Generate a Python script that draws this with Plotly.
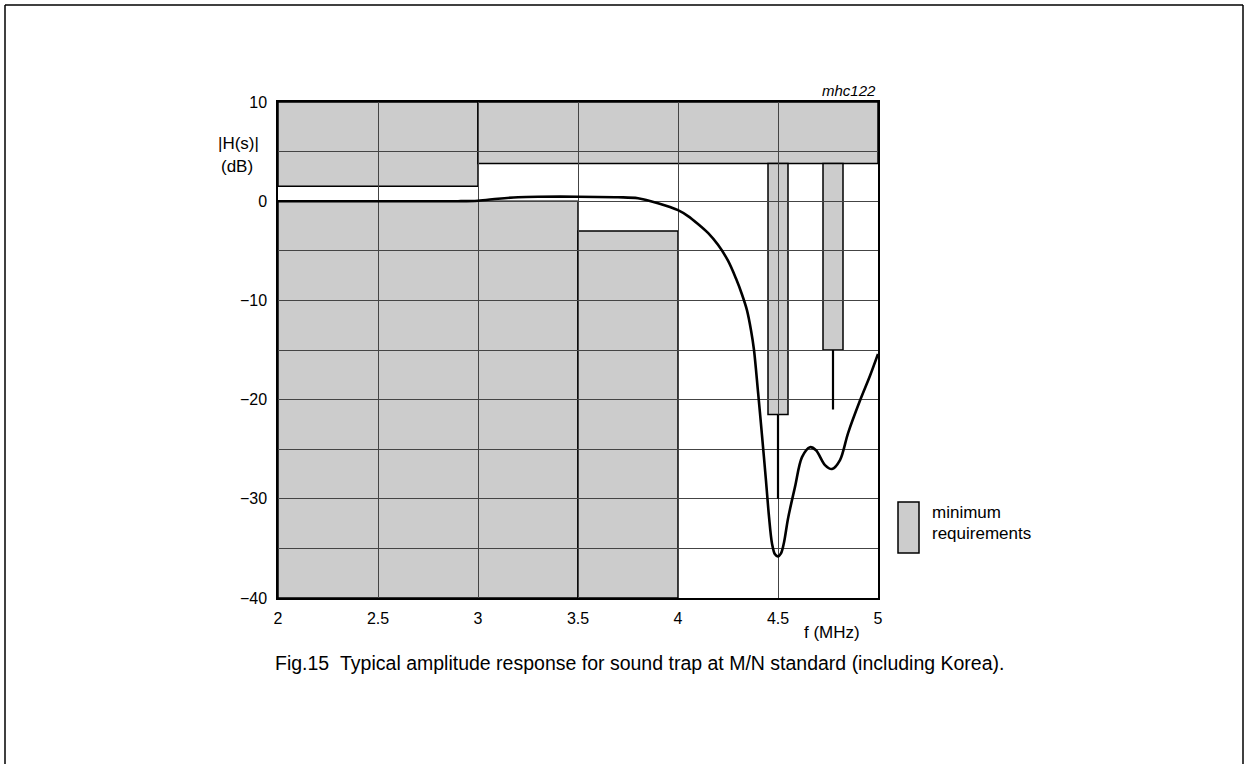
import plotly.graph_objects as go

# ---------------- data ----------------
freq = [2.0, 2.5, 2.9, 3.0, 3.1, 3.2, 3.3, 3.5, 3.7, 3.8, 3.9, 4.0, 4.05, 4.1,
        4.15, 4.2, 4.25, 4.29, 4.32, 4.345, 4.365, 4.38, 4.40, 4.42, 4.44,
        4.455, 4.47, 4.485, 4.50, 4.515, 4.53, 4.55, 4.585, 4.62, 4.66, 4.69,
        4.735, 4.77, 4.81, 4.85, 4.91, 4.96, 5.0]
gain_db = [0.0, 0.0, 0.0, 0.05, 0.25, 0.4, 0.45, 0.45, 0.4, 0.3, -0.2, -0.9,
           -1.5, -2.3, -3.2, -4.4, -6.0, -7.8, -9.4, -11.0, -13.0, -15.0, -19.2,
           -23.6, -28.2, -31.8, -34.5, -35.6, -35.8, -35.5, -34.4, -32.0, -28.8,
           -25.8, -24.8, -25.1, -26.6, -27.0, -26.1, -23.4, -20.1, -17.6, -15.4]

# upper mask (x0, x1, lower edge dB) up to the top of the chart (10 dB)
upper_x0 = [2.0, 3.0]
upper_x1 = [3.0, 5.0]
upper_low = [1.5, 3.8]
# lower mask (x0, x1, upper edge dB) down to -40 dB
lower_x0 = [2.0, 3.5]
lower_x1 = [3.5, 4.0]
lower_high = [0.0, -3.0]
# trap requirement bars (x0, x1, bottom dB) and their marker lines
bar_x0 = [4.45, 4.725]
bar_x1 = [4.55, 4.825]
bar_bottom = [-21.5, -15.0]
bar_line_x = [4.5, 4.775]
bar_line_end = [-30.0, -21.0]

x_ticks = [2, 2.5, 3, 3.5, 4, 4.5, 5]
x_tick_labels = ["2", "2.5", "3", "3.5", "4", "4.5", "5"]
y_ticks = [10, 5, 0, -5, -10, -15, -20, -25, -30, -35, -40]
y_tick_labels = ["10", "", "0", "", "\u221210", "", "\u221220", "", "\u221230", "", "\u221240"]

Y_TOP, Y_BOT = 10, -40
X_MIN, X_MAX = 2, 5

# ---------------- layout helpers ----------------
W, H = 1245, 764
L, R, T, B = 278, 878, 102, 598


def px_x(p):
    return (p - L) / (R - L)


def px_y(p):
    return (B - p) / (B - T)


GRAY = "#cccccc"
FONT = "Liberation Sans, Arial, sans-serif"

fig = go.Figure()

shapes = []
for x0, x1, lo in zip(upper_x0, upper_x1, upper_low):
    shapes.append(dict(type="rect", xref="x", yref="y", x0=x0, x1=x1, y0=lo, y1=Y_TOP,
                       fillcolor=GRAY, line=dict(color="black", width=1.5), layer="below"))
for x0, x1, hi in zip(lower_x0, lower_x1, lower_high):
    shapes.append(dict(type="rect", xref="x", yref="y", x0=x0, x1=x1, y0=Y_BOT, y1=hi,
                       fillcolor=GRAY, line=dict(color="black", width=1.5), layer="below"))
for x0, x1, bt in zip(bar_x0, bar_x1, bar_bottom):
    shapes.append(dict(type="rect", xref="x", yref="y", x0=x0, x1=x1, y0=bt, y1=upper_low[1],
                       fillcolor=GRAY, line=dict(color="black", width=1.5), layer="below"))

# marker lines under bars
for lx, bt, en in zip(bar_line_x, bar_bottom, bar_line_end):
    fig.add_trace(go.Scatter(x=[lx, lx], y=[bt, en], mode="lines",
                             line=dict(color="black", width=2.2),
                             showlegend=False, hoverinfo="skip"))

# response curve
fig.add_trace(go.Scatter(x=freq, y=gain_db, mode="lines",
                         line=dict(color="black", width=2.6, shape="spline", smoothing=0.9),
                         showlegend=False))

# page frame
shapes.append(dict(type="line", xref="paper", yref="paper", x0=px_x(5), x1=px_x(5),
                   y0=px_y(5), y1=px_y(800), line=dict(color="black", width=1.5)))
shapes.append(dict(type="line", xref="paper", yref="paper", x0=px_x(5), x1=px_x(1243),
                   y0=px_y(5), y1=px_y(5), line=dict(color="black", width=1.5)))
shapes.append(dict(type="line", xref="paper", yref="paper", x0=px_x(1243), x1=px_x(1243),
                   y0=px_y(5), y1=px_y(800), line=dict(color="black", width=1.5)))
# legend swatch
shapes.append(dict(type="rect", xref="paper", yref="paper", x0=px_x(898), x1=px_x(919),
                   y0=px_y(553), y1=px_y(502), fillcolor=GRAY,
                   line=dict(color="black", width=1.5)))


def note(text, x, y, size, xanchor="center"):
    return dict(text=text, x=px_x(x), y=px_y(y), xref="paper", yref="paper",
                xanchor=xanchor, yanchor="middle", showarrow=False,
                font=dict(size=size, family=FONT, color="black"))


annotations = [
    note("|H(s)|", 238, 143, 17),
    note("(dB)", 237, 166, 17),
    note("<i>mhc122</i>", 878, 90, 15, "right"),
    note("f (MHz)", 832, 632, 17),
    note("minimum", 930, 512, 17, "left"),
    note("requirements", 930, 533, 17, "left"),
    note("Fig.15\u00a0\u00a0Typical amplitude response for sound trap at M/N standard (including Korea).",
         273, 663, 19.5, "left"),
]

fig.update_layout(
    width=W, height=H,
    margin=dict(l=L, r=W - R, t=T, b=H - B, pad=0),
    paper_bgcolor="white", plot_bgcolor="white",
    shapes=shapes, annotations=annotations,
    font=dict(family=FONT, size=16, color="black"),
    showlegend=False,
)
fig.update_xaxes(range=[X_MIN, X_MAX], tickvals=x_ticks, ticktext=x_tick_labels,
                 showgrid=True, gridcolor="#444444", gridwidth=1,
                 showline=True, mirror=True, linecolor="black", linewidth=1.5,
                 ticks="", zeroline=False, ticklabelstandoff=5,
                 tickfont=dict(size=16))
fig.update_yaxes(range=[Y_BOT, Y_TOP], tickvals=y_ticks, ticktext=y_tick_labels,
                 showgrid=True, gridcolor="#444444", gridwidth=1,
                 showline=True, mirror=True, linecolor="black", linewidth=1.5,
                 ticks="", zeroline=False, ticklabelstandoff=6,
                 tickfont=dict(size=16))

fig.write_html("out.html", config={"displayModeBar": False},
               post_script="document.body.style.margin='0';document.body.style.overflow='hidden';")
